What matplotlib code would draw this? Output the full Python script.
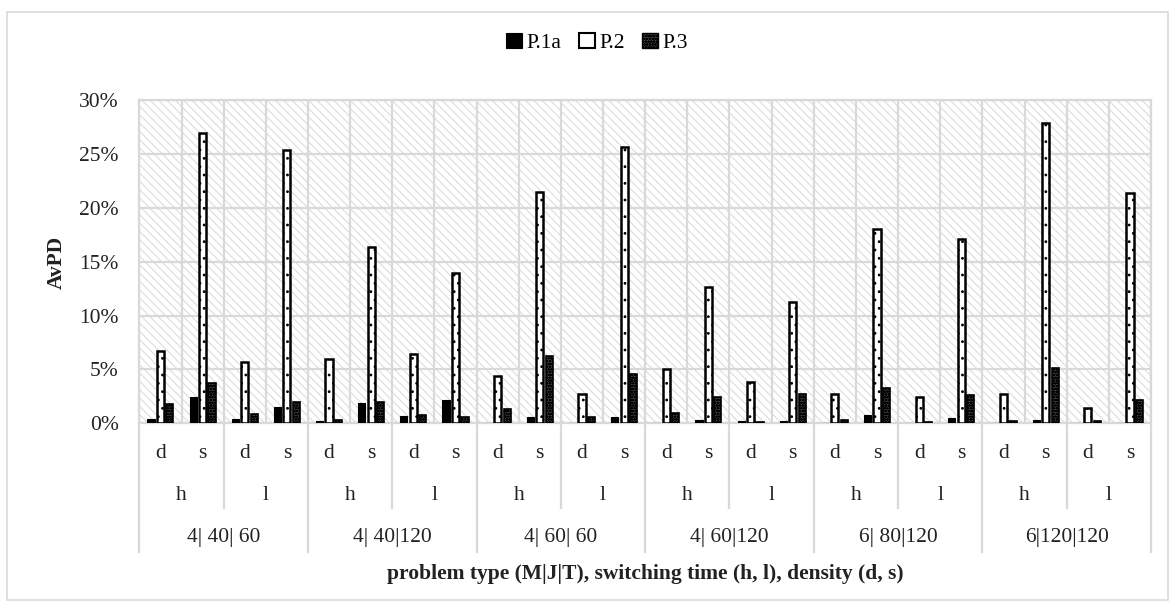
import numpy as np
import matplotlib
matplotlib.use("Agg")
import matplotlib.pyplot as plt
from matplotlib.patches import Rectangle, Patch
from matplotlib.ticker import PercentFormatter, MultipleLocator
import matplotlib.transforms as mtransforms

# ── data (AvPD in %) ─────────────────────────────────────
groups = ["4| 40| 60", "4| 40|120", "4| 60| 60", "4| 60|120", "6| 80|120", "6|120|120"]
switching = ["h", "l"]
density = ["d", "s"]
series_names = ["P.1a", "P.2", "P.3"]

p1a = [0.37, 2.40, 0.40, 1.52, 0.25, 1.92, 0.65, 2.14, 0.00, 0.62, 0.00, 0.56,
       0.00, 0.28, 0.19, 0.22, 0.00, 0.77, 0.00, 0.46, 0.00, 0.28, 0.00, 0.05]
p2 = [6.73, 26.90, 5.65, 25.38, 5.96, 16.35, 6.45, 13.96, 4.37, 21.50, 2.76, 25.60,
      5.08, 12.66, 3.82, 11.26, 2.70, 18.05, 2.42, 17.07, 2.76, 27.90, 1.40, 21.35]
p3 = [1.83, 3.72, 0.90, 1.95, 0.34, 1.95, 0.80, 0.59, 1.33, 6.20, 0.59, 4.56,
      0.93, 2.42, 0.10, 2.70, 0.28, 3.26, 0.10, 2.60, 0.19, 5.15, 0.25, 2.14]

plt.rcParams["font.family"] = ["Liberation Serif", "DejaVu Serif"]
plt.rcParams["hatch.linewidth"] = 0.8

GRID = "#d9d9d9"
FS = 15.5

n_cat = len(groups) * len(switching) * len(density)
x = np.arange(n_cat)

fig = plt.figure(figsize=(11.75, 6.1), dpi=100, facecolor="white")
ax = fig.add_axes([0.1186, 0.3061, 0.861, 0.530])

# hatched plot background
bg = Rectangle((0, 0), 1, 1, transform=ax.transAxes, facecolor="white",
               edgecolor="#dcdcdc", hatch="\\\\\\\\", linewidth=0, zorder=0)
ax.add_patch(bg)

# ── bars ─────────────────────────────────────────────────
w = 0.17
off = 0.225
ax.bar(x - off, p1a, width=w, color="black", edgecolor="black",
       linewidth=0.8, zorder=3)
ax.bar(x, p2, width=w, color="white", edgecolor="black", hatch="..",
       linewidth=1.8, zorder=3)
ax.bar(x + off, p3, width=w, color="#444444", edgecolor="black", hatch="oooooo",
       linewidth=1.2, zorder=3)

ax.set_xlim(-0.5, n_cat - 0.5)
ax.set_ylim(0, 30)
ax.yaxis.set_major_locator(MultipleLocator(5))
ax.yaxis.set_major_formatter(PercentFormatter(xmax=100, decimals=0))
ax.set_xticks(np.arange(-0.5, n_cat, 1.0))
ax.set_xticklabels([])
ax.tick_params(axis="both", length=0, labelsize=FS, pad=15)
ax.tick_params(axis="y", colors="#222222")
ax.grid(True, color=GRID, linewidth=1.6, zorder=1)
ax.set_axisbelow(True)
for s in ax.spines.values():
    s.set_color(GRID)
    s.set_linewidth(1.6)

# ── multi-level category table below the axis ───────────
trans = mtransforms.blended_transform_factory(ax.transData, ax.transAxes)
y_ds, y_hl, y_grp = -0.092, -0.222, -0.352
for gi, g in enumerate(groups):
    g_start = gi * 4
    ax.text(g_start + 1.5, y_grp, g, transform=trans, ha="center", va="center",
            fontsize=FS, color="#222222")
    for si, sw in enumerate(switching):
        s_start = g_start + si * 2
        ax.text(s_start + 0.5, y_hl, sw, transform=trans, ha="center",
                va="center", fontsize=FS, color="#222222")
        for di, dn in enumerate(density):
            ax.text(s_start + di, y_ds, dn, transform=trans, ha="center",
                    va="center", fontsize=FS, color="#222222")
    # separator between h and l
    ax.plot([g_start + 1.5] * 2, [0, -0.262], transform=trans, color=GRID,
            lw=1.6, clip_on=False)
# group separators
for b in np.arange(-0.5, n_cat, 4):
    ax.plot([b, b], [0, -0.398], transform=trans, color=GRID, lw=1.6,
            clip_on=False)

ax.text(0.5, -0.466, "problem type (M|J|T), switching time (h, l), density (d, s)",
        transform=ax.transAxes, ha="center", va="center", fontsize=FS,
        fontweight="bold", color="#222222")

fig.text(0.0485, 0.569, "AvPD", rotation=90, ha="center", va="center",
         fontsize=FS, fontweight="bold", color="#222222")

# ── legend ───────────────────────────────────────────────
handles = [
    Patch(facecolor="black", edgecolor="black", linewidth=0.8),
    Patch(facecolor="white", edgecolor="black", linewidth=1.5),
    Patch(facecolor="#444444", edgecolor="black", hatch="oooooo", linewidth=1.0),
]
fig.legend(handles, series_names, loc="center", bbox_to_anchor=(0.508, 0.93),
           ncol=3, frameon=False, fontsize=FS, handlelength=0.75,
           handleheight=0.75, handletextpad=0.2, columnspacing=0.8)

# outer chart border
fig.patches.append(Rectangle((0.006, 0.016), 0.988, 0.964, transform=fig.transFigure,
                             fill=False, edgecolor=GRID, linewidth=1.2))

fig.savefig("out.png", dpi=100, facecolor="white")
